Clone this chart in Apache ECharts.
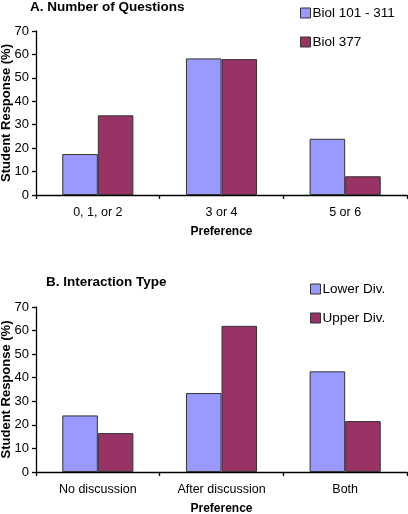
<!DOCTYPE html>
<html><head><meta charset="utf-8">
<script src="https://cdn.jsdelivr.net/npm/echarts@6/dist/echarts.min.js"></script>
<style>html,body{margin:0;padding:0;background:#fff}#c{width:408px;height:514px}</style>
</head><body><div id="c"></div>
<script>
const catsA = ['0, 1, or 2', '3 or 4', '5 or 6'];
const seriesNamesA = ['Biol 101 - 311', 'Biol 377'];
const valsA1 = [17.5, 58.3, 24];
const valsA2 = [34, 58, 8];
const catsB = ['No discussion', 'After discussion', 'Both'];
const seriesNamesB = ['Lower Div.', 'Upper Div.'];
const valsB1 = [24, 33.5, 42.7];
const valsB2 = [16.5, 62, 21.6];
const yTicks = [0, 10, 20, 30, 40, 50, 60, 70];

const FONT = 'Liberation Sans, Arial, sans-serif';
const BLUE = '#9999FF', MAROON = '#993366';
const chart = echarts.init(document.getElementById('c'), null, {renderer: 'canvas'});

function xAxis(gi, cats) {
  return {
    type: 'category', gridIndex: gi, data: cats,
    name: 'Preference', nameLocation: 'middle', nameGap: 31, nameMoveOverlap: false,
    nameTextStyle: {fontFamily: FONT, fontWeight: 'bold', fontSize: 12, color: '#000'},
    axisLine: {lineStyle: {color: '#000', width: 1.3}},
    axisTick: {show: true, length: 4, lineStyle: {color: '#000', width: 1.3}},
    axisLabel: {fontFamily: FONT, fontSize: 12.5, color: '#000', margin: 11}
  };
}
function yAxis(gi) {
  return {
    type: 'value', gridIndex: gi, min: yTicks[0], max: yTicks[yTicks.length - 1], interval: 10,
    name: 'Student Response (%)', nameLocation: 'middle', nameGap: 23, nameRotate: 90, nameMoveOverlap: false,
    nameTextStyle: {fontFamily: FONT, fontWeight: 'bold', fontSize: 13, color: '#000'},
    axisLine: {show: true, lineStyle: {color: '#000', width: 1.3}},
    axisTick: {show: true, length: 4, lineStyle: {color: '#000', width: 1.3}},
    axisLabel: {fontFamily: FONT, fontSize: 13, color: '#000', margin: 7},
    splitLine: {show: false}
  };
}
function bar(name, data, color, xi) {
  return {
    type: 'bar', name, data, xAxisIndex: xi, yAxisIndex: xi,
    barGap: '0%', barCategoryGap: '42.5%',
    itemStyle: {color, borderColor: '#333', borderWidth: 1},
    emphasis: {disabled: true}
  };
}
const legendCommon = {
  orient: 'vertical', icon: 'rect', itemWidth: 10, itemHeight: 10, itemGap: 15,
  textStyle: {fontFamily: FONT, fontSize: 13.5, color: '#000', padding: [0, 0, 0, -3]},
  itemStyle: {borderColor: '#333', borderWidth: 1}
};
chart.setOption({
  animation: false,
  title: [
    {text: 'A. Number of Questions', left: 25, top: -5,
     textStyle: {fontFamily: FONT, fontWeight: 'bold', fontSize: 13.5, color: '#000'}},
    {text: 'B. Interaction Type', left: 41, top: 270,
     textStyle: {fontFamily: FONT, fontWeight: 'bold', fontSize: 13.5, color: '#000'}}
  ],
  legend: [
    Object.assign({data: seriesNamesA, left: 295, top: 1}, legendCommon),
    Object.assign({data: seriesNamesB, left: 305, top: 277}, legendCommon)
  ],
  grid: [
    {left: 36, top: 31, width: 371, height: 164, containLabel: false, outerBoundsMode: 'none'},
    {left: 36, top: 307, width: 371, height: 165, containLabel: false, outerBoundsMode: 'none'}
  ],
  xAxis: [xAxis(0, catsA), xAxis(1, catsB)],
  yAxis: [yAxis(0), yAxis(1)],
  series: [
    bar(seriesNamesA[0], valsA1, BLUE, 0),
    bar(seriesNamesA[1], valsA2, MAROON, 0),
    bar(seriesNamesB[0], valsB1, BLUE, 1),
    bar(seriesNamesB[1], valsB2, MAROON, 1)
  ]
});
</script></body></html>
